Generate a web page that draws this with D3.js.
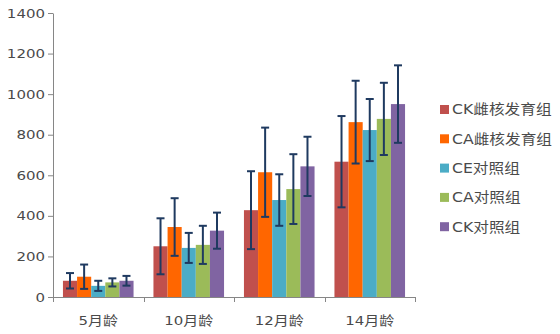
<!DOCTYPE html>
<html><head><meta charset="utf-8">
<script src="https://cdn.jsdelivr.net/npm/d3@7/dist/d3.min.js"></script>
<style>
html,body{margin:0;padding:0;background:#fff;}
text{font-family:"DejaVu Sans","Noto Sans CJK SC",sans-serif;}
</style></head>
<body><svg id="c" width="560" height="334"></svg>
<script>
const categories = ["5月龄","10月龄","12月龄","14月龄"];
const seriesNames = ["CK雌核发育组","CA雌核发育组","CE对照组","CA对照组","CK对照组"];
const colors = ["#C0504D","#FF6600","#4BACC6","#9BBB59","#8064A2"];
const meanCK_G = [80, 250, 428, 667];
const meanCA_G = [100, 345, 615, 862];
const meanCE_C = [55, 242, 478, 823];
const meanCA_C = [72, 257, 532, 878];
const meanCK_C = [80, 327, 644, 951];
const errCK_G = [38, 138, 192, 225];
const errCA_G = [60, 142, 220, 204];
const errCE_C = [25, 74, 127, 153];
const errCA_C = [20, 94, 172, 178];
const errCK_C = [24, 89, 146, 191];
const yTicks = [0,200,400,600,800,1000,1200,1400];

const means = [meanCK_G, meanCA_G, meanCE_C, meanCA_C, meanCK_C];
const errs = [errCK_G, errCA_G, errCE_C, errCA_C, errCK_C];

const svg = d3.select("#c");
const pL = 53, pR = 415, pT = 13, pB = 297;
const y = d3.scaleLinear().domain([0,1400]).range([pB, pT]);
const x0 = d3.scaleBand().domain(categories).range([pL, pR]).paddingInner(0.22).paddingOuter(0.11);
const x1 = d3.scaleBand().domain(d3.range(seriesNames.length)).range([0, x0.bandwidth()]);

function stretch(sel, k) {
  sel.each(function() {
    const t = d3.select(this);
    const x = +t.attr("x") || 0;
    t.attr("x", x / k).attr("transform", `scale(${k},1)`);
  });
}

// y axis
const yAxis = svg.append("g").attr("transform", `translate(${pL},0)`)
  .call(d3.axisLeft(y).tickValues(yTicks).tickFormat(d3.format("d")).tickSize(5).tickSizeOuter(0).tickPadding(3));
yAxis.select(".domain").attr("stroke", "#868686");
yAxis.selectAll(".tick line").attr("stroke", "#868686");
yAxis.selectAll("text").attr("fill", "#4a4a4a").style("font-size", "12.5px").style("font-family", "DejaVu Sans");
stretch(yAxis.selectAll("text"), 1.2);

// x axis
const xb = d3.scaleLinear().domain([0, categories.length]).range([pL, pR]);
svg.append("line").attr("x1", pL).attr("x2", pR).attr("y1", pB+0.5).attr("y2", pB+0.5).attr("stroke", "#868686");
svg.selectAll(".xt").data(d3.range(categories.length+1)).join("line")
  .attr("x1", d => Math.round(xb(d))+0.5).attr("x2", d => Math.round(xb(d))+0.5)
  .attr("y1", pB).attr("y2", pB+5).attr("stroke", "#868686");
const xl = svg.selectAll(".xl").data(categories).join("text")
  .attr("x", d => x0(d) + x0.bandwidth()/2).attr("y", 325)
  .attr("text-anchor", "middle").attr("fill", "#4a4a4a").style("font-size", "13px").text(d => d);
stretch(xl, 1.15);

// bars
seriesNames.forEach((s, si) => {
  const g = svg.append("g");
  g.selectAll("rect").data(categories).join("rect")
    .attr("x", (c) => x0(c) + x1(si))
    .attr("width", x1.bandwidth())
    .attr("y", (c, i) => y(means[si][i]))
    .attr("height", (c, i) => pB - y(means[si][i]))
    .attr("fill", colors[si]);
});
// error bars
seriesNames.forEach((s, si) => {
  const g = svg.append("g").attr("stroke", "#1F3A60").attr("stroke-width", 2);
  categories.forEach((c, i) => {
    const cx = x0(c) + x1(si) + x1.bandwidth()/2;
    const hi = y(means[si][i] + errs[si][i]);
    const lo = y(means[si][i] - errs[si][i]);
    g.append("line").attr("x1", cx).attr("x2", cx).attr("y1", hi).attr("y2", lo);
    g.append("line").attr("x1", cx-4).attr("x2", cx+4).attr("y1", hi).attr("y2", hi);
    g.append("line").attr("x1", cx-4).attr("x2", cx+4).attr("y1", lo).attr("y2", lo);
  });
});

// legend
const lg = svg.append("g");
seriesNames.forEach((s, i) => {
  const ly = 109 + i*29.3;
  lg.append("rect").attr("x", 440).attr("y", ly-4).attr("width", 9).attr("height", 9).attr("fill", colors[i]);
  const t = lg.append("text").attr("x", 452).attr("y", ly+5.5).attr("fill", "#4a4a4a").style("font-size", "14px").text(s);
  stretch(t, 1.12);
});
</script></body></html>
